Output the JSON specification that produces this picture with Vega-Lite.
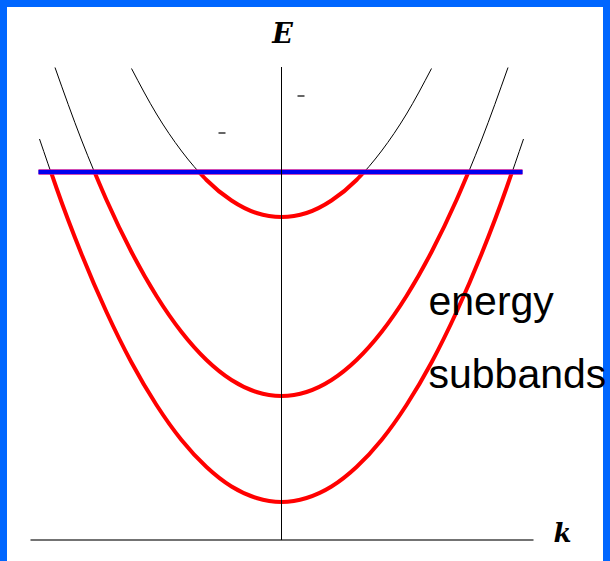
{
  "$schema": "https://vega.github.io/schema/vega-lite/v6.json",
  "width": 596,
  "height": 554,
  "autosize": "none",
  "padding": {"left": 7, "top": 7, "right": 7, "bottom": 0},
  "background": "#0066ff",
  "config": {"view": {"stroke": null, "fill": "white"}},
  "datasets": {
    "dispersion": [
      {"band": 1, "k": -4.84, "E": 8.02}, {"band": 1, "k": -4.5, "E": 7.04}, {"band": 1, "k": -4.0, "E": 5.72},
      {"band": 1, "k": -3.5, "E": 4.56}, {"band": 1, "k": -3.0, "E": 3.55}, {"band": 1, "k": -2.5, "E": 2.70},
      {"band": 1, "k": -2.0, "E": 2.00}, {"band": 1, "k": -1.5, "E": 1.46}, {"band": 1, "k": -1.0, "E": 1.07},
      {"band": 1, "k": -0.5, "E": 0.84}, {"band": 1, "k": 0.0, "E": 0.76}, {"band": 1, "k": 0.5, "E": 0.84},
      {"band": 1, "k": 1.0, "E": 1.07}, {"band": 1, "k": 1.5, "E": 1.46}, {"band": 1, "k": 2.0, "E": 2.00},
      {"band": 1, "k": 2.5, "E": 2.70}, {"band": 1, "k": 3.0, "E": 3.55}, {"band": 1, "k": 3.5, "E": 4.56},
      {"band": 1, "k": 4.0, "E": 5.72}, {"band": 1, "k": 4.5, "E": 7.04}, {"band": 1, "k": 4.84, "E": 8.02},
      {"band": 2, "k": -4.53, "E": 9.45}, {"band": 2, "k": -4.0, "E": 8.00}, {"band": 2, "k": -3.5, "E": 6.80},
      {"band": 2, "k": -3.0, "E": 5.76}, {"band": 2, "k": -2.5, "E": 4.88}, {"band": 2, "k": -2.0, "E": 4.16},
      {"band": 2, "k": -1.5, "E": 3.60}, {"band": 2, "k": -1.0, "E": 3.20}, {"band": 2, "k": -0.5, "E": 2.96},
      {"band": 2, "k": 0.0, "E": 2.88}, {"band": 2, "k": 0.5, "E": 2.96}, {"band": 2, "k": 1.0, "E": 3.20},
      {"band": 2, "k": 1.5, "E": 3.60}, {"band": 2, "k": 2.0, "E": 4.16}, {"band": 2, "k": 2.5, "E": 4.88},
      {"band": 2, "k": 3.0, "E": 5.76}, {"band": 2, "k": 3.5, "E": 6.80}, {"band": 2, "k": 4.0, "E": 8.00},
      {"band": 2, "k": 4.53, "E": 9.45},
      {"band": 3, "k": -3.0, "E": 9.43}, {"band": 3, "k": -2.5, "E": 8.52}, {"band": 3, "k": -2.0, "E": 7.78},
      {"band": 3, "k": -1.5, "E": 7.20}, {"band": 3, "k": -1.0, "E": 6.79}, {"band": 3, "k": -0.5, "E": 6.54},
      {"band": 3, "k": 0.0, "E": 6.46}, {"band": 3, "k": 0.5, "E": 6.54}, {"band": 3, "k": 1.0, "E": 6.79},
      {"band": 3, "k": 1.5, "E": 7.20}, {"band": 3, "k": 2.0, "E": 7.78}, {"band": 3, "k": 2.5, "E": 8.52},
      {"band": 3, "k": 3.0, "E": 9.43}
    ],
    "occupied": [
      {"band": 1, "k": -4.61, "E": 7.36}, {"band": 1, "k": -4.5, "E": 7.04}, {"band": 1, "k": -4.0, "E": 5.72},
      {"band": 1, "k": -3.5, "E": 4.56}, {"band": 1, "k": -3.0, "E": 3.55}, {"band": 1, "k": -2.5, "E": 2.70},
      {"band": 1, "k": -2.0, "E": 2.00}, {"band": 1, "k": -1.5, "E": 1.46}, {"band": 1, "k": -1.0, "E": 1.07},
      {"band": 1, "k": -0.5, "E": 0.84}, {"band": 1, "k": 0.0, "E": 0.76}, {"band": 1, "k": 0.5, "E": 0.84},
      {"band": 1, "k": 1.0, "E": 1.07}, {"band": 1, "k": 1.5, "E": 1.46}, {"band": 1, "k": 2.0, "E": 2.00},
      {"band": 1, "k": 2.5, "E": 2.70}, {"band": 1, "k": 3.0, "E": 3.55}, {"band": 1, "k": 3.5, "E": 4.56},
      {"band": 1, "k": 4.0, "E": 5.72}, {"band": 1, "k": 4.5, "E": 7.04}, {"band": 1, "k": 4.61, "E": 7.36},
      {"band": 2, "k": -3.74, "E": 7.36}, {"band": 2, "k": -3.5, "E": 6.80},
      {"band": 2, "k": -3.0, "E": 5.76}, {"band": 2, "k": -2.5, "E": 4.88}, {"band": 2, "k": -2.0, "E": 4.16},
      {"band": 2, "k": -1.5, "E": 3.60}, {"band": 2, "k": -1.0, "E": 3.20}, {"band": 2, "k": -0.5, "E": 2.96},
      {"band": 2, "k": 0.0, "E": 2.88}, {"band": 2, "k": 0.5, "E": 2.96}, {"band": 2, "k": 1.0, "E": 3.20},
      {"band": 2, "k": 1.5, "E": 3.60}, {"band": 2, "k": 2.0, "E": 4.16}, {"band": 2, "k": 2.5, "E": 4.88},
      {"band": 2, "k": 3.0, "E": 5.76}, {"band": 2, "k": 3.5, "E": 6.80}, {"band": 2, "k": 3.74, "E": 7.36},
      {"band": 3, "k": -1.65, "E": 7.36}, {"band": 3, "k": -1.5, "E": 7.20}, {"band": 3, "k": -1.0, "E": 6.79},
      {"band": 3, "k": -0.5, "E": 6.54}, {"band": 3, "k": 0.0, "E": 6.46}, {"band": 3, "k": 0.5, "E": 6.54},
      {"band": 3, "k": 1.0, "E": 6.79}, {"band": 3, "k": 1.5, "E": 7.20}, {"band": 3, "k": 1.65, "E": 7.36}
    ]
  },
  "encoding": {
    "x": {"field": "k", "type": "quantitative", "scale": {"domain": [-5.49, 6.43], "nice": false, "zero": false}, "axis": null},
    "y": {"field": "E", "type": "quantitative", "scale": {"domain": [-0.42, 10.66], "nice": false, "zero": false}, "axis": null}
  },
  "layer": [
    {
      "data": {"name": "dispersion"},
      "mark": {"type": "line", "color": "black", "strokeWidth": 1, "interpolate": "monotone"},
      "encoding": {"detail": {"field": "band"}}
    },
    {
      "data": {"name": "occupied"},
      "mark": {"type": "line", "color": "#ff0000", "strokeWidth": 4, "interpolate": "monotone", "strokeCap": "round"},
      "encoding": {"detail": {"field": "band"}}
    },
    {
      "data": {"values": [{"k": -4.86, "k2": 4.82, "E": 7.36}]},
      "mark": {"type": "rule", "color": "#c0109a", "strokeWidth": 5.5},
      "encoding": {"x2": {"field": "k2"}}
    },
    {
      "data": {"values": [{"k": -4.86, "k2": 4.82, "E": 7.36}]},
      "mark": {"type": "rule", "color": "#0000ee", "strokeWidth": 4},
      "encoding": {"x2": {"field": "k2"}}
    },
    {
      "data": {"values": [{"k": -5.02, "k2": 5.04, "E": 0}]},
      "mark": {"type": "rule", "color": "#444444", "strokeWidth": 1.5},
      "encoding": {"x2": {"field": "k2"}}
    },
    {
      "data": {"values": [{"k": 0, "E": 0, "E2": 9.46}]},
      "mark": {"type": "rule", "color": "black", "strokeWidth": 1},
      "encoding": {"y2": {"field": "E2"}}
    },
    {
      "data": {"values": [{"k": 0.32, "k2": 0.46, "E": 8.88}, {"k": -1.26, "k2": -1.12, "E": 8.14}]},
      "mark": {"type": "rule", "color": "#666666", "strokeWidth": 2},
      "encoding": {"x2": {"field": "k2"}}
    },
    {
      "data": {"values": [{"k": 0.02, "E": 9.94, "label": "E"}]},
      "mark": {"type": "text", "font": "DejaVu Serif", "fontWeight": "bold", "fontStyle": "italic", "fontSize": 27, "align": "center", "baseline": "alphabetic", "color": "black"},
      "encoding": {"text": {"field": "label"}}
    },
    {
      "data": {"values": [{"k": 5.62, "E": -0.04, "label": "k"}]},
      "mark": {"type": "text", "font": "DejaVu Serif", "fontWeight": "bold", "fontStyle": "italic", "fontSize": 26, "align": "center", "baseline": "alphabetic", "color": "black"},
      "encoding": {"text": {"field": "label"}}
    },
    {
      "data": {"values": [{"k": 2.94, "E": 4.5, "label": "energy"}, {"k": 2.94, "E": 3.04, "label": "subbands"}]},
      "mark": {"type": "text", "font": "Liberation Sans", "fontSize": 41, "align": "left", "baseline": "alphabetic", "color": "black"},
      "encoding": {"text": {"field": "label"}}
    }
  ]
}
